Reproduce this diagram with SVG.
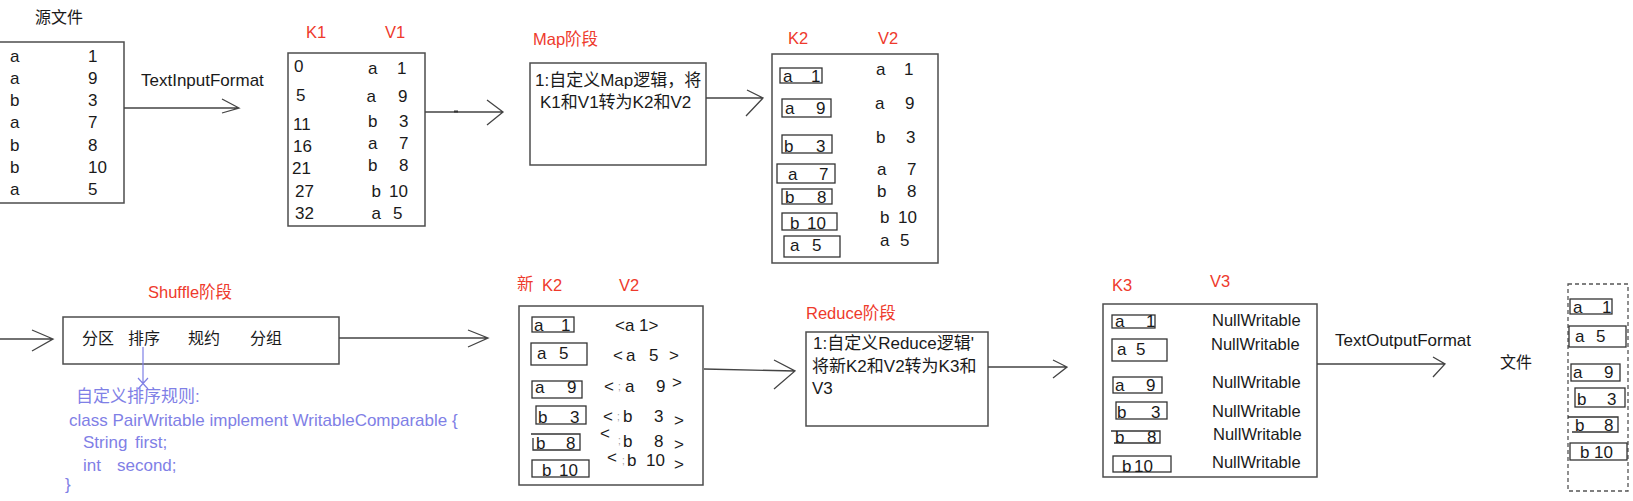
<svg xmlns="http://www.w3.org/2000/svg" width="1633" height="501" viewBox="0 0 1633 501">
<style>
text{font-family:"Liberation Sans",Arial,"Noto Sans CJK SC",sans-serif;fill:#1a1a1a;font-size:17px}
.lbl{fill:#ee3a2c;font-size:16.5px}
.blue{fill:#7f80e6;font-size:17px}
.box{fill:none;stroke:#4d4d4d;stroke-width:1.5}
.dash{fill:none;stroke:#555;stroke-width:1.3;stroke-dasharray:4 3}
.sb{fill:none;stroke:#333;stroke-width:1.3}
.conn{fill:none;stroke:#444;stroke-width:1.3}
.bl{fill:none;stroke:#7f80e6;stroke-width:1.2}
.nw{font-size:16.5px}
.tk{font-size:10px;fill:#9a9a9a}
.cn{font-size:16px}
</style>
<rect width="1633" height="501" fill="#ffffff"/>

<g id="source">
<text class="cn" x="35" y="23">源文件</text>
<rect class="box" x="-2" y="42" width="126" height="161"/>
<text x="10" y="61.7">a</text><text x="88" y="61.7">1</text>
<text x="10" y="83.9">a</text><text x="88" y="83.9">9</text>
<text x="10" y="106.1">b</text><text x="88" y="106.1">3</text>
<text x="10" y="128.3">a</text><text x="88" y="128.3">7</text>
<text x="10" y="150.5">b</text><text x="88" y="150.5">8</text>
<text x="10" y="172.7">b</text><text x="88" y="172.7">10</text>
<text x="10" y="194.9">a</text><text x="88" y="194.9">5</text>
</g>

<g id="k1v1">
<text class="lbl" x="306" y="38">K1</text>
<text class="lbl" x="385" y="38">V1</text>
<rect class="box" x="288" y="53" width="137" height="173"/>
<text x="294" y="71.5">0</text>
<text x="296" y="101">5</text>
<text x="293" y="130">11</text>
<text x="293" y="151.7">16</text>
<text x="292" y="174.3">21</text>
<text x="295" y="196.7">27</text>
<text x="295" y="219">32</text>
<text x="368" y="74">a</text><text x="397" y="74">1</text>
<text x="366.5" y="101.7">a</text><text x="398" y="101.7">9</text>
<text x="368" y="126.7">b</text><text x="399" y="126.7">3</text>
<text x="368" y="149">a</text><text x="399" y="149">7</text>
<text x="368" y="170.7">b</text><text x="399" y="170.7">8</text>
<text x="371.5" y="196.7">b</text><text x="389" y="196.7">10</text>
<text x="371.5" y="219">a</text><text x="393" y="219">5</text>
</g>

<g id="map">
<text class="lbl" x="533" y="45">Map阶段</text>
<rect class="box" x="530" y="63" width="176" height="102"/>
<text x="535" y="86">1:自定义Map逻辑，将</text>
<text x="540" y="108">K1和V1转为K2和V2</text>
</g>

<g id="k2v2">
<text class="lbl" x="788" y="44">K2</text>
<text class="lbl" x="878" y="44">V2</text>
<rect class="box" x="772" y="54" width="166" height="209"/>
<rect class="sb" x="780" y="68" width="42" height="15"/><text x="783" y="82">a</text><text x="811" y="82">1</text>
<rect class="sb" x="782" y="99" width="49" height="18"/><text x="785" y="114">a</text><text x="816" y="114">9</text>
<rect class="sb" x="782" y="135" width="50" height="18"/><text x="784" y="152">b</text><text x="816" y="152">3</text>
<rect class="sb" x="777" y="164" width="58" height="19"/><text x="788" y="180">a</text><text x="819" y="180">7</text>
<rect class="sb" x="782" y="189" width="50" height="15"/><text x="785" y="203">b</text><text x="817" y="203">8</text>
<rect class="sb" x="782" y="213" width="55" height="17"/><text x="790" y="229">b</text><text x="807" y="229">10</text>
<rect class="sb" x="784" y="236" width="56" height="21"/><text x="790" y="251">a</text><text x="812" y="251">5</text>
<text x="876" y="75">a</text><text x="904" y="75">1</text>
<text x="875" y="109">a</text><text x="905" y="109">9</text>
<text x="876" y="143">b</text><text x="906" y="143">3</text>
<text x="877" y="175">a</text><text x="907" y="175">7</text>
<text x="877" y="197">b</text><text x="907" y="197">8</text>
<text x="880" y="223">b</text><text x="898" y="223">10</text>
<text x="880" y="246">a</text><text x="900" y="246">5</text>
</g>

<g id="shuffle">
<text class="lbl" x="148" y="298">Shuffle阶段</text>
<rect class="box" x="63" y="317" width="276" height="47"/>
<text class="cn" x="82" y="344">分区</text>
<text class="cn" x="128" y="344">排序</text>
<text class="cn" x="188" y="344">规约</text>
<text class="cn" x="250" y="344">分组</text>
</g>

<g id="sort-note">
<path class="bl" d="M143,347 V384 M138,378 L148,389 M148,378 L138,389"/>
<text class="blue" x="76" y="402">自定义排序规则:</text>
<text class="blue" x="69" y="426">class PairWritable implement WritableComparable {</text>
<text class="blue" x="83" y="448">String</text><text class="blue" x="135" y="448">first;</text>
<text class="blue" x="83" y="470.7">int</text><text class="blue" x="117" y="470.7">second;</text>
<text class="blue" x="65" y="490">}</text>
</g>

<g id="new-k2v2">
<text class="lbl" x="517" y="290">新</text>
<text class="lbl" x="542" y="291">K2</text>
<text class="lbl" x="619" y="291">V2</text>
<rect class="box" x="519" y="306" width="184" height="179"/>
<rect class="sb" x="532" y="317" width="42" height="15"/><text x="534" y="331">a</text><text x="561" y="331">1</text>
<rect class="sb" x="531" y="343" width="56" height="22"/><text x="537" y="359">a</text><text x="559" y="359">5</text>
<rect class="sb" x="532" y="381" width="50" height="17"/><text x="535" y="393">a</text><text x="567" y="393">9</text>
<rect class="sb" x="536" y="406" width="50" height="18"/><text x="538" y="423">b</text><text x="570" y="423">3</text>
<path class="sb" d="M531,434 H580 V450 H533 V438"/><text x="536" y="449">b</text><text x="566" y="449">8</text>
<rect class="sb" x="532" y="460" width="57" height="17"/><text x="542" y="476">b</text><text x="559" y="476">10</text>
<text x="615" y="331">&lt;a  1&gt;</text>
<text x="613" y="361">&lt;</text><text x="626" y="361">a</text><text x="649" y="361">5</text><text x="669" y="361">&gt;</text>
<text x="604" y="392">&lt;</text><text class="tk" x="618" y="390">;</text><text x="625" y="392">a</text><text x="656" y="392">9</text><text x="672" y="388">&gt;</text>
<text x="603" y="422">&lt;</text><text class="tk" x="617" y="420">;</text><text x="623" y="422">b</text><text x="654" y="422">3</text><text x="674" y="426">&gt;</text>
<text x="600" y="439">&lt;</text><text class="tk" x="618" y="444">;</text><text x="623" y="447">b</text><text x="654" y="447">8</text><text x="674" y="450">&gt;</text>
<text x="607" y="463">&lt;</text><text class="tk" x="622" y="464">;</text><text x="627" y="466">b</text><text x="646" y="466">10</text><text x="674" y="470">&gt;</text>
</g>

<g id="reduce">
<text class="lbl" x="806" y="319">Reduce阶段</text>
<rect class="box" x="806" y="332" width="182" height="94"/>
<text x="813" y="349">1:自定义Reduce逻辑'</text>
<text x="812" y="372">将新K2和V2转为K3和</text>
<text x="812" y="394">V3</text>
</g>

<g id="k3v3">
<text class="lbl" x="1112" y="291">K3</text>
<text class="lbl" x="1210" y="287">V3</text>
<rect class="box" x="1103" y="304" width="214" height="173"/>
<rect class="sb" x="1112" y="315" width="43" height="13"/><text x="1115" y="327">a</text><text x="1146" y="327">1</text>
<rect class="sb" x="1112" y="339" width="55" height="22"/><text x="1117" y="355">a</text><text x="1136" y="355">5</text>
<rect class="sb" x="1113" y="377" width="49" height="16"/><text x="1115" y="391">a</text><text x="1146" y="391">9</text>
<rect class="sb" x="1116" y="402" width="51" height="17"/><text x="1117" y="418">b</text><text x="1151" y="418">3</text>
<path class="sb" d="M1111,431 H1160 V443 H1114"/><text x="1115" y="443">b</text><text x="1147" y="443">8</text>
<rect class="sb" x="1113" y="456" width="58" height="16"/><text x="1122" y="472">b</text><text x="1134" y="472">10</text>
<text class="nw" x="1212" y="326">NullWritable</text>
<text class="nw" x="1211" y="350">NullWritable</text>
<text class="nw" x="1212" y="388">NullWritable</text>
<text class="nw" x="1212" y="417">NullWritable</text>
<text class="nw" x="1213" y="440">NullWritable</text>
<text class="nw" x="1212" y="468">NullWritable</text>
</g>

<g id="output-file">
<text class="cn" x="1500" y="368">文件</text>
<rect class="dash" x="1568" y="284" width="60" height="207"/>
<rect class="sb" x="1570" y="299" width="42" height="15"/><text x="1573" y="313">a</text><text x="1602" y="313">1</text>
<rect class="sb" x="1569" y="326" width="57" height="21"/><text x="1575" y="342">a</text><text x="1596" y="342">5</text>
<rect class="sb" x="1571" y="364" width="49" height="17"/><text x="1573" y="378">a</text><text x="1604" y="378">9</text>
<rect class="sb" x="1575" y="388" width="50" height="19"/><text x="1577" y="405">b</text><text x="1607" y="405">3</text>
<path class="sb" d="M1568,417 H1618 V432 H1572"/><text x="1575" y="431">b</text><text x="1604" y="431">8</text>
<rect class="sb" x="1570" y="443" width="57" height="17"/><text x="1580" y="458">b</text><text x="1594" y="458">10</text>
</g>

<g id="connectors">
<path class="conn" d="M124,108 H239 M222,99 L239,108 L222,113"/>
<text x="141" y="86">TextInputFormat</text>
<path class="conn" d="M425,112 H503 M487,100 L503,112 L487,125"/>
<rect x="454" y="110.5" width="4" height="2" fill="#333"/>
<path class="conn" d="M706,98 H763 M747,90 L763,98 L746,116"/>
<path class="conn" d="M0,339 H53 M32,330 L53,339 L32,351"/>
<path class="conn" d="M339,338 H488 M468,330 L488,338 L468,347"/>
<path class="conn" d="M704,369 L795,371 M774,360 L795,371 L774,389"/>
<path class="conn" d="M988,367 H1067 M1053,360 L1067,367 L1053,378"/>
<path class="conn" d="M1317,364 H1445 M1433,357 L1445,364 L1433,377"/>
<text x="1335" y="346">TextOutputFormat</text>
</g>
</svg>
